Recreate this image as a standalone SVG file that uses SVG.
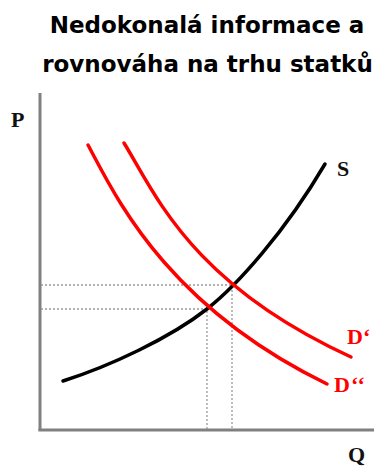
<svg xmlns="http://www.w3.org/2000/svg" width="374" height="466" viewBox="0 0 374 466">
<style>
.title{font-family:"DejaVu Sans",sans-serif;font-weight:bold;font-size:23px;fill:#000;text-anchor:middle}
.lab{font-family:"Liberation Serif",serif;font-weight:bold;font-size:22px;fill:#111}
.dlab{font-family:"Liberation Serif",serif;font-weight:bold;font-size:22px;fill:#ff0000}
.axis{stroke:#808080;stroke-width:3;fill:none}
.dot{stroke:#999;stroke-width:1.3;stroke-dasharray:2 2;fill:none}
.demand{stroke:#ff0000;stroke-width:3.5;fill:none;stroke-linecap:round}
.supply{stroke:#000;stroke-width:3.5;fill:none;stroke-linecap:round}
</style>
<rect width="374" height="466" fill="#fff"/>
<g id="title">
<text class="title" x="207" y="33">Nedokonalá informace a</text>
<text class="title" x="207.5" y="72">rovnováha na trhu statků</text>
</g>
<g id="axes">
<line class="axis" x1="40" y1="93" x2="40" y2="431"/>
<line class="axis" x1="38.5" y1="430" x2="374" y2="430"/>
<text class="lab" x="11" y="127">P</text>
<text class="lab" x="348" y="462">Q</text>
</g>
<g id="connectors">
<path class="dot" d="M41,285 H232 V429"/>
<path class="dot" d="M41,309 H207 V429"/>
</g>
<g id="supply">
<path class="supply" d="M63,381 C110,366 170,338 207,309 C237,285.5 285,232 325,164"/>
<text class="lab" x="337" y="176">S</text>
</g>
<g id="demand1">
<path class="demand" d="M124,143 C155,193 190,283 351,357"/>
<text class="dlab" x="347" y="344">D‘</text>
</g>
<g id="demand2">
<path class="demand" d="M88,145 C115,195 165,305 327,384"/>
<text class="dlab" x="334" y="392" letter-spacing="1">D‘‘</text>
</g>
</svg>
